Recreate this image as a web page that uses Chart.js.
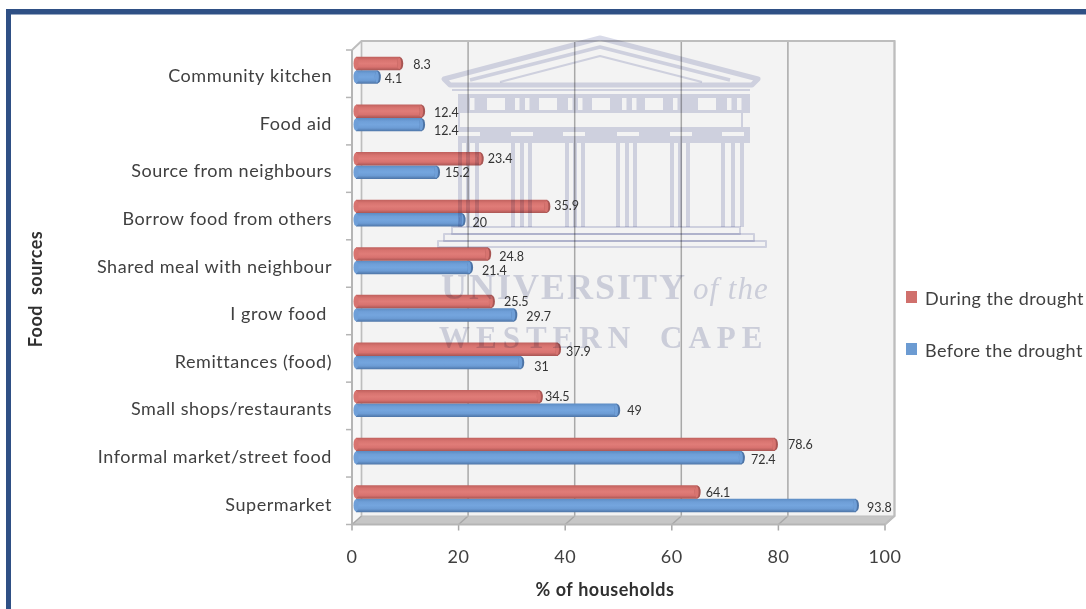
<!DOCTYPE html>
<html>
<head>
<meta charset="utf-8">
<title>Food sources</title>
<script src="https://cdn.jsdelivr.net/npm/chart.js@4/dist/chart.umd.min.js"></script>
<style>
  html, body { margin: 0; padding: 0; background: #fff; overflow: hidden; }
  #wrap { position: relative; width: 1086px; height: 609px; }
  canvas { display: block; }
  #legend { position: absolute; left: 906px; top: 283px; font: 18px Lato, sans-serif; letter-spacing: 0.42px; color: #404040; }
  #legend div { position: relative; height: 51.5px; line-height: 30px; padding-left: 19px; white-space: nowrap; }
  #legend span { position: absolute; left: 0; top: 8px; width: 11px; height: 12px; }
</style>
</head>
<body>
<div id="wrap">
  <canvas id="myChart" width="1086" height="609"></canvas>
  <div id="legend"></div>
</div>
<script>
const categories = [
  "Community kitchen",
  "Food aid",
  "Source from neighbours",
  "Borrow food from others",
  "Shared meal with neighbour",
  "I grow food ",
  "Remittances (food)",
  "Small shops/restaurants",
  "Informal market/street food",
  "Supermarket",
];
const duringDrought = [8.3, 12.4, 23.4, 35.9, 24.8, 25.5, 37.9, 34.5, 78.6, 64.1];
const beforeDrought = [4.1, 12.4, 15.2, 20, 21.4, 29.7, 31, 49, 72.4, 93.8];

const textColor = "#404040";
const labelFont = "Lato, sans-serif";

// colour stops for the cylinder shading, top to bottom
const redStops = ["#bf605d", "#d87470", "#e07c78", "#d8726f", "#a85553"];
const blueStops = ["#5c8cc3", "#6f9fd8", "#74a5de", "#6c9cd5", "#4d74a6"];

// hand placement of the value labels: gap after the bar end, drop from bar centre
const labelGap = [
  [10, 9, 4, 4, 8, 9, 5, 2, 10, 5],
  [4, 9, 5, 7, 9, 9, 10, 7, 6, 8],
];
const labelDrop = [
  [1, 2, 0, 0, 3, 0, 3, 0, 1, 1],
  [2, 6, 1, 3, 4, 2, 4, 1, 2, 3],
];

// the walls and floor of the 3D box, painted behind the bars
const boxPlugin = {
  id: "box",
  beforeDraw(chart) {
    // tick labels are set a little wide
    chart.ctx.letterSpacing = "0.55px";
  },
  beforeDatasetsDraw(chart) {
    const c = chart.ctx;
    const x = chart.scales.x;
    const front = (v) => x.getPixelForValue(v) - 4;
    const back = (v) => x.getPixelForValue(v) + 5.5;
    const top = 41, bottom = 516, fTop = 50, fBottom = 524.5;
    c.save();

    // outer border of the figure
    c.fillStyle = "#2f5085";
    c.fillRect(6, 9, 1080, 5.5);
    c.fillRect(6, 9, 5, 600);

    // back wall
    c.fillStyle = "#f3f3f3";
    c.fillRect(back(0), top, back(100) - back(0), bottom - top);

    // left wall
    c.fillStyle = "#f8f8f8";
    c.beginPath();
    c.moveTo(front(0), fTop);
    c.lineTo(back(0), top);
    c.lineTo(back(0), bottom);
    c.lineTo(front(0), fBottom);
    c.closePath();
    c.fill();

    // floor
    c.fillStyle = "#c6c6c6";
    c.beginPath();
    c.moveTo(front(0), fBottom);
    c.lineTo(back(0), bottom);
    c.lineTo(back(100), bottom);
    c.lineTo(front(100), fBottom);
    c.closePath();
    c.fill();

    // gridlines on the wall, running down into the floor
    x.ticks.forEach((t) => {
      c.strokeStyle = "#a8a8a8";
      c.lineWidth = 1.5;
      c.beginPath();
      c.moveTo(back(t.value), top);
      c.lineTo(back(t.value), bottom);
      c.lineTo(front(t.value), fBottom);
      c.lineTo(front(t.value), fBottom + 6);
      c.stroke();
    });

    // frame edges
    c.strokeStyle = "#bdbdbd";
    c.lineWidth = 2;
    c.beginPath();
    c.moveTo(front(0), fTop);
    c.lineTo(back(0), top);
    c.lineTo(back(100), top);
    c.lineTo(back(100), bottom);
    c.lineTo(front(100), fBottom);
    c.stroke();
    c.lineWidth = 1;
    c.beginPath();
    c.moveTo(back(0), top);
    c.lineTo(back(0), bottom);
    c.lineTo(back(100), bottom);
    c.stroke();

    // front axis lines and category ticks
    c.strokeStyle = "#b5b5b5";
    c.lineWidth = 2;
    c.beginPath();
    c.moveTo(front(0), fTop);
    c.lineTo(front(0), fBottom);
    c.lineTo(front(100), fBottom);
    c.stroke();
    c.lineWidth = 1.5;
    categories.forEach((cat, i) => {
      const py = fTop + (fBottom - fTop) * (i / categories.length);
      c.beginPath();
      c.moveTo(front(0) - 6, py);
      c.lineTo(front(0), py);
      c.stroke();
    });
    c.beginPath();
    c.moveTo(front(0) - 6, fBottom);
    c.lineTo(front(0), fBottom);
    c.stroke();

    c.restore();
  },
};

// rounds the bars into cylinders
const cylinderPlugin = {
  id: "cylinder",
  afterDatasetsUpdate(chart) {
    chart.data.datasets.forEach((ds, d) => {
      const stops = d === 0 ? redStops : blueStops;
      chart.getDatasetMeta(d).data.forEach((bar) => {
        const y0 = bar.y - bar.height / 2;
        const g = chart.ctx.createLinearGradient(0, y0, 0, y0 + bar.height);
        stops.forEach((s, i) => g.addColorStop(i / (stops.length - 1), s));
        bar.options = Object.assign({}, bar.options, { backgroundColor: g });
      });
    });
  },
  afterDatasetsDraw(chart) {
    const c = chart.ctx;
    c.save();
    chart.data.datasets.forEach((ds, d) => {
      const stops = d === 0 ? redStops : blueStops;
      chart.getDatasetMeta(d).data.forEach((bar) => {
        const h = bar.height / 2;
        c.fillStyle = stops[1];
        c.beginPath();
        c.ellipse(bar.base, bar.y, 2.5, h - 0.5, 0, 0, Math.PI * 2);
        c.fill();
        c.fillStyle = stops[4];
        c.beginPath();
        c.ellipse(bar.x, bar.y, 3, h - 0.5, 0, 0, Math.PI * 2);
        c.fill();
        c.fillStyle = stops[1];
        c.beginPath();
        c.ellipse(bar.x - 1, bar.y, 2, h - 1, 0, 0, Math.PI * 2);
        c.fill();
      });
    });
    c.restore();
  },
};

// building crest and university name laid across the plot
const crestPlugin = {
  id: "crest",
  afterDatasetsDraw(chart) {
    const c = chart.ctx;
    const tint = "#d9dbe9";
    c.save();
    c.globalCompositeOperation = "multiply";

    // roof
    c.strokeStyle = tint;
    c.lineJoin = "round";
    c.lineWidth = 5;
    c.beginPath();
    c.moveTo(444, 79);
    c.lineTo(600, 38);
    c.lineTo(758, 79);
    c.lineTo(752, 85);
    c.lineTo(450, 85);
    c.closePath();
    c.stroke();
    c.lineWidth = 3.5;
    c.beginPath();
    c.moveTo(470, 80);
    c.lineTo(600, 47);
    c.lineTo(730, 80);
    c.stroke();
    c.lineWidth = 2;
    c.beginPath();
    c.moveTo(500, 82);
    c.lineTo(600, 56);
    c.lineTo(702, 82);
    c.stroke();
    c.fillStyle = tint;
    c.fillRect(452, 89, 298, 2);

    // frieze with its windows knocked out
    const frieze = new Path2D();
    frieze.rect(458, 94, 292, 19);
    [487, 539, 592, 645, 698].forEach((wx) => frieze.rect(wx, 98, 18, 12));
    [470, 515, 525, 568, 578, 622, 632, 673, 727, 737].forEach((wx) => frieze.rect(wx, 98, 4.5, 12));
    c.fill(frieze, "evenodd");

    // architrave
    c.fillRect(458, 113, 2, 14);
    c.fillRect(741, 113, 2, 14);
    const arch = new Path2D();
    arch.rect(458, 127, 292, 16);
    [458, 511, 563, 617, 670, 722].forEach((wx) => arch.rect(wx, 132, 22, 4));
    c.fill(arch, "evenodd");

    // columns
    [460, 468, 477, 513, 522, 530, 567, 575, 583, 618, 627, 635, 672, 680, 688, 723, 733, 742].forEach((cx) => {
      c.fillRect(cx - 2, 143, 4, 84);
    });

    // steps
    c.lineWidth = 2;
    c.strokeStyle = tint;
    c.strokeRect(452, 227, 288, 7);
    c.strokeRect(444, 234, 310, 7);
    c.strokeRect(438, 241, 328, 6);

    // name
    c.fillStyle = "#d5d7e4";
    c.textBaseline = "alphabetic";
    c.textAlign = "left";
    c.font = "bold 36px 'Liberation Serif', serif";
    c.letterSpacing = "2px";
    c.fillText("UNIVERSITY", 441, 299);
    c.font = "italic 31px 'Liberation Serif', serif";
    c.letterSpacing = "1px";
    c.fillText("of the", 693, 299);
    c.font = "bold 31px 'Liberation Serif', serif";
    c.letterSpacing = "6px";
    c.fillText("WESTERN", 439, 348);
    c.fillText("CAPE", 660, 348);
    c.restore();
  },
};

// value labels and the two axis titles
const textPlugin = {
  id: "texts",
  afterDraw(chart) {
    const c = chart.ctx;
    c.save();
    c.letterSpacing = "0px";
    c.fillStyle = "#333333";
    c.font = "12.5px " + labelFont;
    c.textAlign = "left";
    c.textBaseline = "middle";
    chart.data.datasets.forEach((ds, d) => {
      chart.getDatasetMeta(d).data.forEach((bar, i) => {
        c.fillText(String(ds.data[i]), bar.x + 3 + labelGap[d][i], bar.y + labelDrop[d][i]);
      });
    });

    c.fillStyle = "#303030";
    c.font = "bold 18px " + labelFont;
    c.textAlign = "center";
    c.letterSpacing = "0.5px";
    c.fillText("% of households", 605, 590);
    c.translate(36, 289);
    c.rotate(-Math.PI / 2);
    c.wordSpacing = "5px";
    c.fillText("Food sources", 0, 0);
    c.restore();
  },
};

const myChart = new Chart(document.getElementById("myChart").getContext("2d"), {
  type: "bar",
  data: {
    labels: categories,
    datasets: [
      { label: "During the drought", data: duringDrought, backgroundColor: "#d0706c", borderWidth: 0 },
      { label: "Before the drought", data: beforeDrought, backgroundColor: "#6c9bd2", borderWidth: 0 },
    ],
  },
  options: {
    indexAxis: "y",
    responsive: false,
    animation: false,
    categoryPercentage: 0.565,
    barPercentage: 1,
    layout: { padding: { top: 46.5, right: 197, left: 0, bottom: 0 } },
    scales: {
      x: {
        min: 0,
        max: 100,
        afterFit(s) { s.height = 86.5; },
        grid: { display: false, drawTicks: false },
        border: { display: false },
        ticks: {
          stepSize: 20,
          maxRotation: 0,
          padding: 24,
          labelOffset: -4,
          color: textColor,
          font: { size: 18, family: labelFont },
        },
      },
      y: {
        afterFit(s) { s.width = 356; },
        grid: { display: false, drawTicks: false },
        border: { display: false },
        ticks: {
          padding: 24,
          labelOffset: 6,
          color: textColor,
          font: { size: 18, family: labelFont },
        },
      },
    },
    plugins: {
      legend: { display: false },
      tooltip: { enabled: false },
    },
  },
  plugins: [boxPlugin, cylinderPlugin, crestPlugin, textPlugin],
});

// legend beside the plot
const legend = document.getElementById("legend");
myChart.data.datasets.forEach((dataset) => {
  const row = document.createElement("div");
  const swatch = document.createElement("span");
  swatch.style.background = dataset.backgroundColor;
  row.appendChild(swatch);
  row.appendChild(document.createTextNode(dataset.label));
  legend.appendChild(row);
});
</script>
</body>
</html>
